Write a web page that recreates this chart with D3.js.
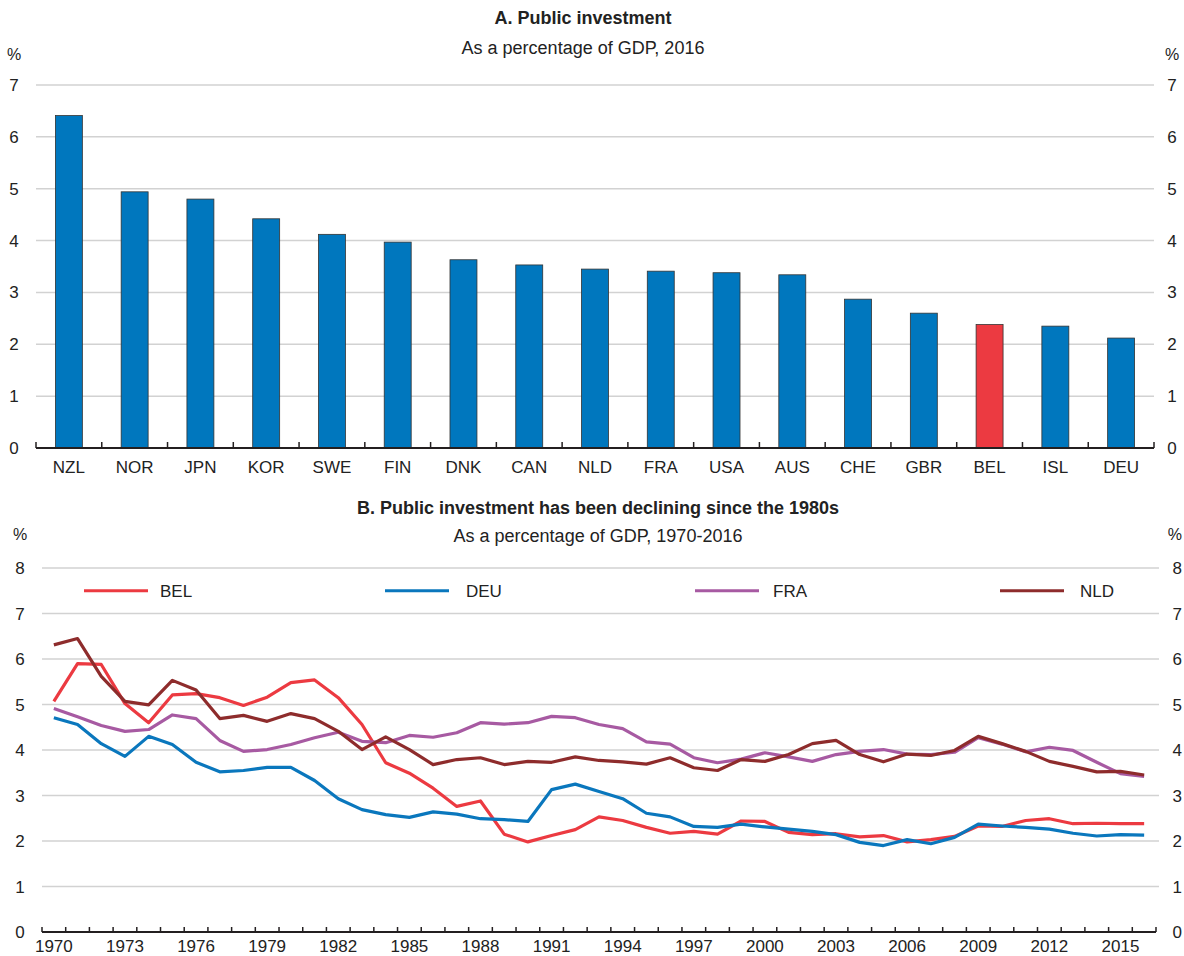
<!DOCTYPE html>
<html>
<head>
<meta charset="utf-8">
<script src="https://cdn.jsdelivr.net/npm/d3@7"></script>
<style>
    body { margin: 0; background: #fff; }
    svg text { font-family: "Liberation Sans", Arial, sans-serif; fill: #222; }
</style>
</head>
<body>
<div id="chart"></div>
<script>
// panel A: public investment in 2016, % of GDP
const countries = ["NZL", "NOR", "JPN", "KOR", "SWE", "FIN", "DNK", "CAN", "NLD", "FRA", "USA", "AUS", "CHE", "GBR", "BEL", "ISL", "DEU"];
const investment2016 = [6.41, 4.94, 4.80, 4.42, 4.12, 3.97, 3.63, 3.53, 3.45, 3.41, 3.38, 3.34, 2.87, 2.60, 2.38, 2.35, 2.12];
const panelAyTicks = [0, 1, 2, 3, 4, 5, 6, 7];

// panel B: public investment 1970-2016, % of GDP
const years = d3.range(1970, 2017);
const bel = [5.07, 5.90, 5.88, 5.02, 4.60, 5.21, 5.24, 5.15, 4.98, 5.16, 5.48, 5.54, 5.15, 4.56, 3.72, 3.49, 3.16, 2.76, 2.88, 2.15,
             1.98, 2.12, 2.25, 2.53, 2.45, 2.30, 2.17, 2.21, 2.15, 2.44, 2.43, 2.19, 2.14, 2.16, 2.09, 2.12, 1.98, 2.03, 2.10, 2.33,
             2.32, 2.45, 2.49, 2.38, 2.39, 2.38, 2.38];
const deu = [4.71, 4.56, 4.14, 3.86, 4.30, 4.12, 3.73, 3.52, 3.55, 3.62, 3.62, 3.33, 2.93, 2.69, 2.58, 2.52, 2.64, 2.59, 2.49, 2.47,
             2.43, 3.13, 3.25, 3.09, 2.93, 2.61, 2.53, 2.32, 2.30, 2.37, 2.31, 2.26, 2.21, 2.14, 1.97, 1.90, 2.03, 1.94, 2.08, 2.37,
             2.33, 2.30, 2.26, 2.17, 2.11, 2.14, 2.13];
const fra = [4.91, 4.73, 4.54, 4.41, 4.45, 4.77, 4.69, 4.21, 3.97, 4.01, 4.12, 4.27, 4.39, 4.19, 4.16, 4.32, 4.28, 4.38, 4.60, 4.57,
             4.60, 4.74, 4.71, 4.56, 4.47, 4.18, 4.13, 3.83, 3.72, 3.80, 3.94, 3.85, 3.75, 3.90, 3.97, 4.01, 3.91, 3.90, 3.95, 4.27,
             4.13, 3.96, 4.06, 3.99, 3.73, 3.48, 3.42];
const nld = [6.31, 6.45, 5.62, 5.07, 4.99, 5.53, 5.32, 4.69, 4.76, 4.63, 4.80, 4.69, 4.41, 4.01, 4.29, 4.01, 3.68, 3.79, 3.83, 3.68,
             3.75, 3.73, 3.85, 3.77, 3.74, 3.69, 3.83, 3.61, 3.55, 3.79, 3.75, 3.90, 4.14, 4.21, 3.90, 3.74, 3.91, 3.88, 3.99, 4.30,
             4.14, 3.97, 3.75, 3.64, 3.52, 3.53, 3.45];
const seriesNames = ["BEL", "DEU", "FRA", "NLD"];
const panelByTicks = [0, 1, 2, 3, 4, 5, 6, 7, 8];

const blue = "#0077be";
const red = "#ec3a41";
const lineColours = { BEL: red, DEU: "#0a77bd", FRA: "#a75aa2", NLD: "#8e2c2c" };
const gridColour = "#d2d2d2";
const axisColour = "#231f20";

const width = 1184, height = 956;

const svg = d3.select("#chart").append("svg")
    .attr("width", width)
    .attr("height", height);

// ---------- panel A ----------
const xA = d3.scaleBand().domain(countries).range([36, 1154]);
const yA = d3.scaleLinear().domain([0, 7]).range([448, 85]);

svg.append("text").attr("x", 583).attr("y", 24).attr("text-anchor", "middle")
    .style("font-size", "18px").style("font-weight", "bold").text("A. Public investment");
svg.append("text").attr("x", 583).attr("y", 54).attr("text-anchor", "middle")
    .style("font-size", "18px").text("As a percentage of GDP, 2016");

svg.append("text").attr("x", 14).attr("y", 60).attr("text-anchor", "middle").style("font-size", "16px").text("%");
svg.append("text").attr("x", 1172).attr("y", 60).attr("text-anchor", "middle").style("font-size", "16px").text("%");

svg.append("g").selectAll("line")
    .data(panelAyTicks.filter(d => d > 0))
    .join("line")
    .attr("x1", 36).attr("x2", 1154)
    .attr("y1", d => yA(d)).attr("y2", d => yA(d))
    .attr("stroke", gridColour).attr("stroke-width", 1.5);

svg.append("g").selectAll("text")
    .data(panelAyTicks)
    .join("text")
    .attr("x", 14).attr("y", d => yA(d) + 6)
    .attr("text-anchor", "middle").style("font-size", "17px")
    .text(d => d);

svg.append("g").selectAll("text")
    .data(panelAyTicks)
    .join("text")
    .attr("x", 1172).attr("y", d => yA(d) + 6)
    .attr("text-anchor", "middle").style("font-size", "17px")
    .text(d => d);

const barW = xA.bandwidth() * 0.41;
svg.append("g").selectAll("rect")
    .data(countries)
    .join("rect")
    .attr("x", d => xA(d) + (xA.bandwidth() - barW) / 2)
    .attr("y", (d, i) => yA(investment2016[i]))
    .attr("width", barW)
    .attr("height", (d, i) => yA(0) - yA(investment2016[i]))
    .attr("fill", d => d === "BEL" ? red : blue)
    .attr("stroke", "#333").attr("stroke-width", 0.8);

// x axis: ticks sit on the band edges, labels at band centres
const tickXA = countries.map(d => xA(d)).concat([xA.range()[1]]);
svg.append("g").selectAll("line")
    .data(tickXA)
    .join("line")
    .attr("x1", d => d).attr("x2", d => d)
    .attr("y1", yA(0)).attr("y2", yA(0) - 6)
    .attr("stroke", axisColour).attr("stroke-width", 1.5);
svg.append("line")
    .attr("x1", 36).attr("x2", 1154).attr("y1", yA(0)).attr("y2", yA(0))
    .attr("stroke", axisColour).attr("stroke-width", 2);
svg.append("g").selectAll("text")
    .data(countries)
    .join("text")
    .attr("x", d => xA(d) + xA.bandwidth() / 2)
    .attr("y", 473)
    .attr("text-anchor", "middle").style("font-size", "17px")
    .text(d => d);

// ---------- panel B ----------
const xB = d3.scaleBand().domain(years).range([42, 1156]);
const yB = d3.scaleLinear().domain([0, 8]).range([932, 568]);

svg.append("text").attr("x", 598).attr("y", 514).attr("text-anchor", "middle")
    .style("font-size", "18px").style("font-weight", "bold").text("B. Public investment has been declining since the 1980s");
svg.append("text").attr("x", 598).attr("y", 542).attr("text-anchor", "middle")
    .style("font-size", "18px").text("As a percentage of GDP, 1970-2016");

svg.append("text").attr("x", 20).attr("y", 540).attr("text-anchor", "middle").style("font-size", "16px").text("%");
svg.append("text").attr("x", 1182).attr("y", 540).attr("text-anchor", "end").style("font-size", "16px").text("%");

svg.append("g").selectAll("line")
    .data(panelByTicks.filter(d => d > 0))
    .join("line")
    .attr("x1", 42).attr("x2", 1159)
    .attr("y1", d => yB(d)).attr("y2", d => yB(d))
    .attr("stroke", gridColour).attr("stroke-width", 1.5);

svg.append("g").selectAll("text")
    .data(panelByTicks)
    .join("text")
    .attr("x", 20).attr("y", d => yB(d) + 6)
    .attr("text-anchor", "middle").style("font-size", "17px")
    .text(d => d);

svg.append("g").selectAll("text")
    .data(panelByTicks)
    .join("text")
    .attr("x", 1182).attr("y", d => yB(d) + 6)
    .attr("text-anchor", "end").style("font-size", "17px")
    .text(d => d);

const tickXB = years.map(d => xB(d)).concat([xB.range()[1]]);
svg.append("g").selectAll("line")
    .data(tickXB)
    .join("line")
    .attr("x1", d => d).attr("x2", d => d)
    .attr("y1", yB(0)).attr("y2", yB(0) - 5)
    .attr("stroke", axisColour).attr("stroke-width", 1.5);
svg.append("line")
    .attr("x1", 42).attr("x2", 1156).attr("y1", yB(0)).attr("y2", yB(0))
    .attr("stroke", axisColour).attr("stroke-width", 2);
svg.append("g").selectAll("text")
    .data(years.filter(d => (d - 1970) % 3 === 0))
    .join("text")
    .attr("x", d => xB(d) + xB.bandwidth() / 2)
    .attr("y", 952)
    .attr("text-anchor", "middle").style("font-size", "17px")
    .text(d => d);

const seriesValues = { BEL: bel, DEU: deu, FRA: fra, NLD: nld };
const line = d3.line()
    .x(d => xB(d.year) + xB.bandwidth() / 2)
    .y(d => yB(d.value));

// draw order: BEL under the others, NLD on top
seriesNames.forEach(name => {
    const pts = years.map((y, i) => ({ year: y, value: seriesValues[name][i] }));
    svg.append("path")
        .datum(pts)
        .attr("d", line)
        .attr("fill", "none")
        .attr("stroke", lineColours[name])
        .attr("stroke-width", 3.2)
        .attr("stroke-linejoin", "round");
});

// legend
const legendX = [84, 385, 695, 1000];
const legend = svg.append("g").selectAll("g")
    .data(seriesNames)
    .join("g")
    .attr("transform", (d, i) => `translate(${legendX[i]},${yB(7.5)})`);
legend.append("line")
    .attr("x1", 0).attr("x2", 64)
    .attr("stroke", d => lineColours[d]).attr("stroke-width", 3.2);
legend.append("text")
    .attr("x", (d, i) => [76, 81, 78, 80][i]).attr("y", 6)
    .style("font-size", "17px")
    .text(d => d);
</script>
</body>
</html>
